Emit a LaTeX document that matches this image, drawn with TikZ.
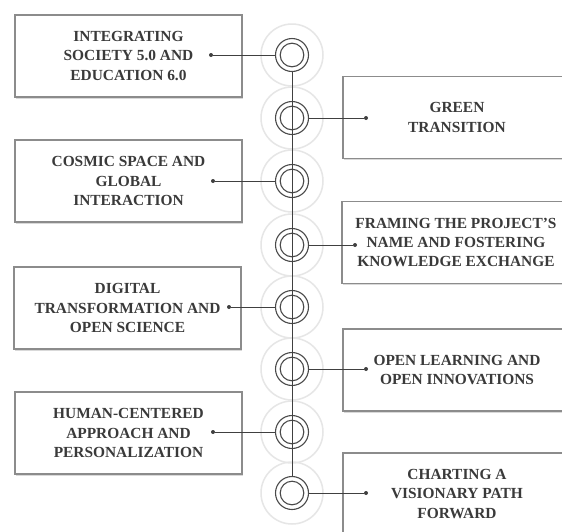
\documentclass[tikz,border=0pt]{standalone}
\usepackage{fontspec}
\setmainfont{Liberation Serif}
\usetikzlibrary{shadows}
\definecolor{boxc}{HTML}{8C8C8C}
\definecolor{txtc}{HTML}{3A3A3A}
\definecolor{ringc}{HTML}{4A4A4A}
\definecolor{linec}{HTML}{404040}
\definecolor{haloc}{HTML}{E6E6E6}
\begin{document}
\begin{tikzpicture}[x=1pt,y=-1pt,
  box/.style={draw=boxc, line width=1.1pt, fill=white,
    general shadow={fill=gray!30, shadow xshift=1pt, shadow yshift=-1.5pt},
    minimum width=227pt, minimum height=82pt, inner sep=0pt, align=center,
    font=\bfseries\fontsize{15.4}{19.2}\selectfont, text=txtc},
  ring/.style={circle, draw=ringc, line width=1.1pt, minimum size=33pt, inner sep=0pt,
    path picture={\draw[ringc, line width=1.1pt] (path picture bounding box.center) circle[radius=11.8pt];}},
  halo/.style={draw=haloc, line width=1.5pt},
  dotn/.style={circle, fill=linec, minimum size=4pt, inner sep=0pt},
  conn/.style={draw=linec, line width=0.9pt}
]
\useasboundingbox (0,0) rectangle (562,531);
\clip (0,0) rectangle (562,531);
\fill[white] (0,0) rectangle (562,531);

% left boxes
\node[box] (b1) at (128.5,56) {INTEGRATING\\SOCIETY 5.0 AND\\EDUCATION 6.0};
\node[box] (b3) at (128.5,181) {COSMIC SPACE AND\\GLOBAL\\INTERACTION};
\node[box] (b5) at (127.5,308) {DIGITAL\\TRANSFORMATION AND\\OPEN SCIENCE};
\node[box] (b7) at (128.5,433) {HUMAN-CENTERED\\APPROACH AND\\PERSONALIZATION};
% right boxes
\node[box, minimum width=228pt] (b2) at (457,117.5) {GREEN\\TRANSITION};
\node[box, minimum width=228pt] (b4) at (456,242.5) {FRAMING THE PROJECT'S\\NAME AND FOSTERING\\KNOWLEDGE EXCHANGE};
\node[box, minimum width=228pt] (b6) at (457,370) {OPEN LEARNING AND\\OPEN INNOVATIONS};
\node[box, minimum width=228pt] (b8) at (457,494) {CHARTING A\\VISIONARY PATH\\FORWARD};

% rings
\node[ring] (c1) at (292,55) {};
\node[ring] (c2) at (292,118) {};
\node[ring] (c3) at (292,181) {};
\node[ring] (c4) at (292,245) {};
\node[ring] (c5) at (292,307) {};
\node[ring] (c6) at (292,369) {};
\node[ring] (c7) at (292,432) {};
\node[ring] (c8) at (292,493) {};
\foreach \i in {1,...,8} \draw[halo] (c\i) circle[radius=31pt];

% dots
\node[dotn] (d1) at (211,55) {};
\node[dotn] (d2) at (366,118) {};
\node[dotn] (d3) at (213,181) {};
\node[dotn] (d4) at (355,245) {};
\node[dotn] (d5) at (229,307) {};
\node[dotn] (d6) at (366,369) {};
\node[dotn] (d7) at (213,432) {};
\node[dotn] (d8) at (366,493) {};

% spine and connectors
\draw[conn] (c1.south) -- (c8.north);
\foreach \i in {1,...,8} \draw[conn] (c\i) -- (d\i);
\end{tikzpicture}
\end{document}
